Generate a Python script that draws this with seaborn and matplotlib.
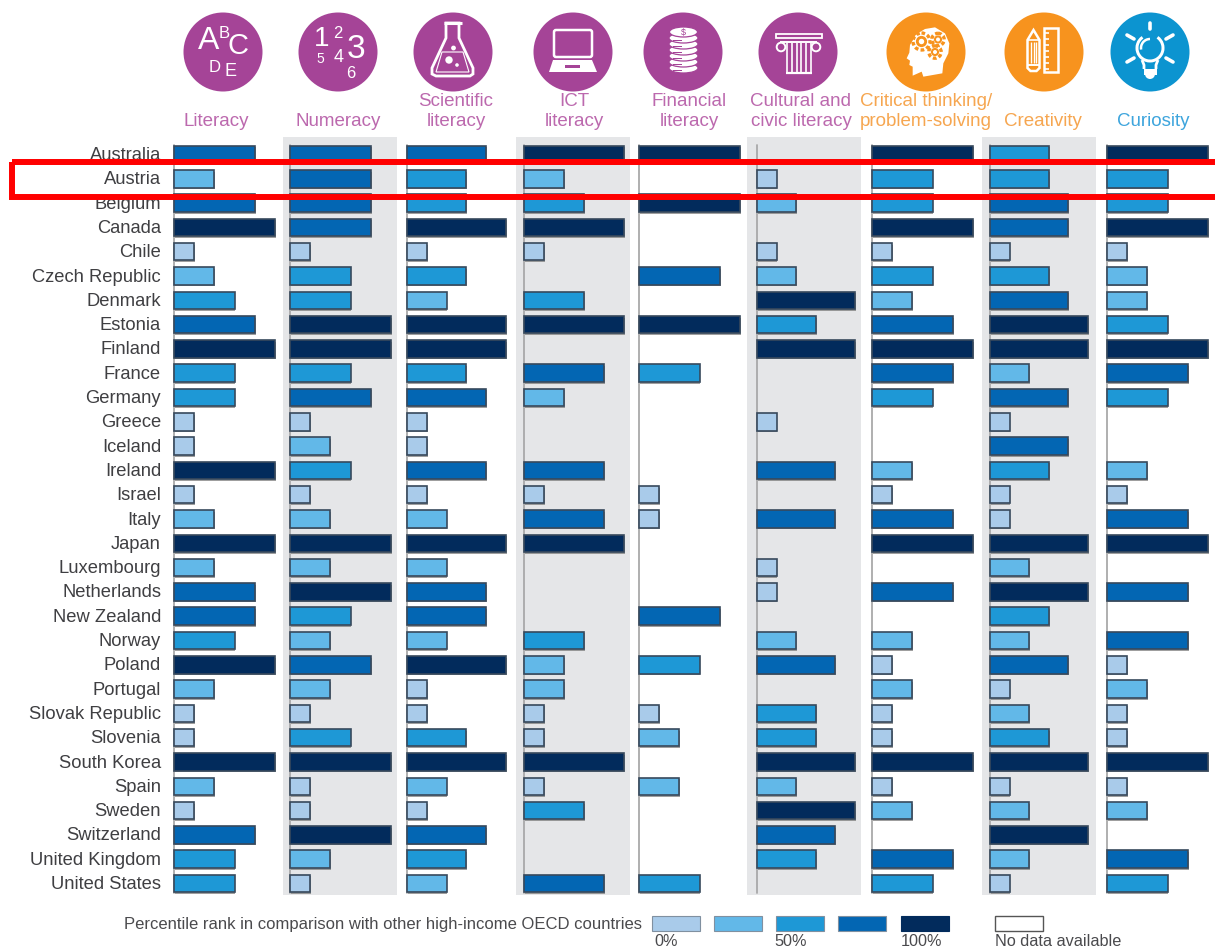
import matplotlib
matplotlib.use("Agg")
import matplotlib.pyplot as plt
import matplotlib.patheffects as pe
import matplotlib.transforms as mtrans
from matplotlib.patches import Circle, Rectangle, Polygon, Ellipse, FancyBboxPatch, Wedge, Arc
import numpy as np
import pandas as pd
import seaborn as sns

countries = ["Australia", "Austria", "Belgium", "Canada", "Chile", "Czech Republic", "Denmark",
             "Estonia", "Finland", "France", "Germany", "Greece", "Iceland", "Ireland", "Israel",
             "Italy", "Japan", "Luxembourg", "Netherlands", "New Zealand", "Norway", "Poland",
             "Portugal", "Slovak Republic", "Slovenia", "South Korea", "Spain", "Sweden",
             "Switzerland", "United Kingdom", "United States"]

# percentile-rank level per country, 1-5; 0 = no data
literacy = [4,2,4,5,1,2,3,4,5,3,3,1,1,5,1,2,5,2,4,4,3,5,2,1,1,5,2,1,4,3,3]
numeracy = [4,4,4,4,1,3,3,5,5,3,4,1,2,3,1,2,5,2,5,3,2,4,2,1,3,5,1,1,5,2,1]
scientific = [4,3,3,5,1,3,2,5,5,3,4,1,1,4,1,2,5,2,4,4,2,5,1,1,3,5,2,1,4,3,2]
ict = [5,2,3,5,1,0,3,5,0,4,2,0,0,4,1,4,5,0,0,0,3,2,2,1,1,5,1,3,0,0,4]
financial = [5,0,5,0,0,4,0,5,0,3,0,0,0,0,1,1,0,0,0,4,0,3,0,1,2,0,2,0,0,0,3]
cultural = [0,1,2,0,1,2,5,3,5,0,0,1,0,4,0,4,0,1,1,0,2,4,0,3,3,5,2,5,4,3,0]
critical = [5,3,3,5,1,3,2,4,5,4,3,0,0,2,1,4,5,0,4,0,2,1,2,1,1,5,1,2,0,4,3]
creativity = [3,3,4,4,1,3,4,5,5,2,4,1,4,3,1,1,5,2,5,3,2,4,1,2,3,5,1,2,5,2,1]
curiosity = [5,3,3,5,1,2,2,3,5,4,3,0,0,2,1,4,5,0,4,0,4,1,2,1,1,5,1,2,0,4,3]

skills = {"Literacy": literacy, "Numeracy": numeracy, "Scientific literacy": scientific,
          "ICT literacy": ict, "Financial literacy": financial,
          "Cultural and civic literacy": cultural, "Critical thinking/problem-solving": critical,
          "Creativity": creativity, "Curiosity": curiosity}

header_lines = [["Literacy"], ["Numeracy"], ["Scientific", "literacy"], ["ICT", "literacy"],
                ["Financial", "literacy"], ["Cultural and", "civic literacy"],
                ["Critical thinking/", "problem-solving"], ["Creativity"], ["Curiosity"]]
legend_title = "Percentile rank in comparison with other high-income OECD countries"
legend_ticks = ["0%", "50%", "100%"]
nodata_label = "No data available"

level_colors = {1: "#A9CBEA", 2: "#62B8E8", 3: "#1E98D6", 4: "#0366B3", 5: "#022B5C"}
PURPLE, ORANGE, BLUE = "#A54497", "#F7931E", "#0C94D0"
TXT_P, TXT_O, TXT_B = "#BC69AE", "#F6A650", "#3EA5DD"
header_colors = [TXT_P]*6 + [TXT_O]*2 + [TXT_B]
circle_colors = [PURPLE]*6 + [ORANGE]*2 + [BLUE]

sns.set_theme(style="white")
plt.rcParams["font.family"] = ["Liberation Sans", "DejaVu Sans"]
W, H = 1215, 950
fig = plt.figure(figsize=(W/100, H/100), dpi=100, facecolor="white")

col_start = [174, 290, 407, 524, 639, 757, 872, 990, 1107]
col_full = [101, 101, 99, 100, 101, 98, 101, 98, 101]   # px width of the top level
left_pads = [7, 7, 7, 8, 7, 10, 7, 8, 7]
band = [False, True, False, True, False, True, False, True, False]
col_w = 114
top_px, bot_px, row0, row_h = 137, 895, 154.5, 24.3

for i, (name, vals) in enumerate(skills.items()):
    left_pad = left_pads[i]
    per_level = col_full[i] / 5
    x0 = col_start[i] - left_pad
    ax = fig.add_axes([x0/W, 1 - bot_px/H, col_w/W, (bot_px - top_px)/H])
    ax.set_facecolor("#E5E6E8" if band[i] else "none")
    ax.patch.set_alpha(1 if band[i] else 0)
    df = pd.DataFrame({"country": countries, "level": vals})
    df = df[df["level"] > 0]
    sns.barplot(data=df, y="country", x="level", hue="level", order=countries,
                hue_order=[1, 2, 3, 4, 5], palette=level_colors, dodge=False, width=0.72,
                saturation=1, edgecolor="#37495C", linewidth=1.2, legend=False, ax=ax, zorder=3)
    for p in ax.patches:
        p.set_path_effects([pe.SimplePatchShadow(offset=(0.6, -1.2), shadow_rgbFace="#777777", alpha=0.7),
                            pe.Normal()])
    ax.set_xlim(-left_pad/per_level, (col_w - left_pad)/per_level)
    ax.set_ylim((bot_px - row0)/row_h, (top_px - row0)/row_h)
    ax.axvline(0, ymin=0.003, ymax=0.99, color="#A9A9A9", lw=1.3, zorder=2)
    ax.set_xlabel(""); ax.set_ylabel(""); ax.set_xticks([])
    for s in ax.spines.values():
        s.set_visible(False)
    ax.tick_params(axis="y", length=0, pad=4.3)
    if i == 0:
        ax.set_yticks(range(len(countries)))
        ax.set_yticklabels(countries, fontsize=13.2, color="#3F3F42")
        shift = mtrans.ScaledTranslation(0, 1/100, fig.dpi_scale_trans)
        for t in ax.get_yticklabels():
            t.set_ha("right")
            t.set_transform(t.get_transform() + shift)
    else:
        ax.set_yticks([])

ov = fig.add_axes([0, 0, 1, 1], zorder=10)
ov.set_xlim(0, W); ov.set_ylim(H, 0); ov.axis("off"); ov.patch.set_alpha(0)

# header
centers = [223, 338, 453, 573, 683, 798, 926, 1044, 1150]
label_x = [216, 338, 456, 574, 689, 801, 926, 1043, 1153]
for cx, col in zip(centers, circle_colors):
    ov.add_patch(Circle((cx, 52), 39.5, fc=col, ec="none"))
for lx, lines, col in zip(label_x, header_lines, header_colors):
    for k, s in enumerate(reversed(lines)):
        ov.text(lx, 121.5 - 19.5*k, s, ha="center", va="center", fontsize=13.5, color=col)

def wt(x, y, s, size):
    ov.text(x, y, s, ha="center", va="center", color="white", fontsize=size)

def wl(xs, ys, lw=1.6, cap="butt"):
    ov.plot(xs, ys, color="white", lw=lw, solid_capstyle=cap)

# Literacy icon
wt(209, 41, "A", 23); wt(224, 33, "B", 12); wt(238, 46, "C", 21)
wt(215, 67, "D", 12); wt(231, 71, "E", 13)
# Numeracy icon
wt(322, 39, "1", 20); wt(338, 34, "2", 12); wt(356, 50, "3", 24)
wt(339, 58, "4", 13); wt(320, 59, "5", 10); wt(351, 73, "6", 12)

# Flask
ov.add_patch(Polygon([(446, 23), (446, 38), (432, 68), (432, 74), (436, 76), (470, 76), (473, 74), (473, 68),
                      (459, 38), (459, 23)], closed=True, fc="none", ec="white", lw=2))
wl([443.5, 461.5], [23, 23], 2.2)
ov.add_patch(Polygon([(442, 52), (436, 72), (469, 72), (463, 52)], closed=True, fc="none", ec="white", lw=0.8))
ov.add_patch(Circle((449, 60), 3.7, fc="white", ec="none"))
ov.add_patch(Circle((453.5, 48), 2.4, fc="white", ec="none"))
ov.add_patch(Circle((457, 65), 1.8, fc="white", ec="none"))

# Laptop
ov.add_patch(FancyBboxPatch((554, 30), 38, 27, boxstyle="round,pad=0,rounding_size=2", fc="none", ec="white", lw=1.8))
ov.add_patch(Polygon([(553, 60), (592, 60), (597, 72), (549, 72)], closed=True, fc="white", ec="none"))
ov.add_patch(Rectangle((565, 65), 15, 3, fc=PURPLE, ec="none"))

# Coins
for yy in [68, 62, 56, 50, 44, 38]:
    ov.add_patch(Ellipse((683.5, yy), 29, 10, fc="white", ec=PURPLE, lw=0.9))
    ov.add_patch(Rectangle((673, yy+2), 9, 1.3, fc=PURPLE, ec="none"))
ov.add_patch(Ellipse((683.5, 32), 28, 10, fc="white", ec=PURPLE, lw=0.9))
ov.text(683.5, 32, "$", ha="center", va="center", fontsize=6.5, color=PURPLE)

# Column
ov.add_patch(Rectangle((776, 34), 46, 4, fc="none", ec="white", lw=1.3))
ov.add_patch(Circle((781, 47), 4.3, fc="none", ec="white", lw=1.4))
ov.add_patch(Circle((816, 47), 4.3, fc="none", ec="white", lw=1.4))
wl([780, 817], [41.5, 41.5], 1.4)
for xx in [787, 792, 797, 801, 806, 811]:
    wl([xx, xx], [43, 72], 1.2)
wl([786, 812], [72.5, 72.5], 1.6)

# Head with gears (facing left)
head = [(98, 197), (98, 170), (88, 165), (90, 152), (80, 145), (88, 128), (90, 105), (110, 72),
        (135, 57), (165, 52), (195, 70), (208, 100), (205, 130), (190, 160), (187, 190), (130, 200), (125, 185)]
ov.add_patch(Polygon([(880 + a/3, 10 + b/3) for a, b in head], closed=True, fc="white", ec="none"))
for gx, gy, r in [(921.5, 41.5, 8.5), (938, 39.5, 6.2), (935, 52, 6.2)]:
    ov.add_patch(Circle((gx, gy), r, fc="white", ec=ORANGE, lw=2.4, ls=(0, (1.1, 0.7))))
    ov.add_patch(Circle((gx, gy), r*0.66, fc=ORANGE, ec="none"))
    ov.add_patch(Circle((gx, gy), r*0.32, fc="white", ec="none"))

# Pencil and ruler
ov.add_patch(Polygon([(1027.5, 40), (1033.5, 30), (1039.5, 40), (1039.5, 68), (1036.5, 71), (1030.5, 71), (1027.5, 68)],
                     closed=True, fc="none", ec="white", lw=1.8))
for xx in [1031, 1033.5, 1036]:
    wl([xx, xx], [42, 63], 1.0)
wl([1027.5, 1039.5], [40, 40], 1.2)
wl([1027.5, 1039.5], [65, 65], 1.4)
ov.add_patch(Rectangle((1043.5, 28), 14, 44, fc="none", ec="white", lw=1.8))
for yy in np.arange(33, 70, 6):
    wl([1043.5, 1049], [yy, yy], 1.2)

# Bulb
ov.add_patch(Wedge((1150, 48), 14.5, 305, 235, width=3, fc="white", ec="none"))
ov.add_patch(Arc((1150, 48), 18, 18, theta1=170, theta2=270, color="white", lw=1.8))
wl([1142, 1144, 1144], [60, 65, 69], 2)
wl([1158, 1156, 1156], [60, 65, 69], 2)
ov.add_patch(Rectangle((1143.5, 69), 13, 5.5, fc="white", ec="none"))
ov.add_patch(Wedge((1150, 74), 5, 0, 180, fc="white", ec="none"))
for (a, b), (c, d) in [((1150, 23), (1150, 29)), ((1127, 35), (1134, 39)), ((1173, 35), (1166, 39)),
                       ((1127, 62), (1134, 58)), ((1173, 62), (1166, 58))]:
    wl([a, c], [b, d], 2.6, "round")

# legend
ov.text(642, 924, legend_title, ha="right", va="center", fontsize=11.95, color="#4A4A4D")
swatch_x = [652, 714, 776, 838, 901]
for sx, lv in zip(swatch_x, [1, 2, 3, 4, 5]):
    ov.add_patch(Rectangle((sx, 916), 48, 15, fc=level_colors[lv], ec="#8090A0" if lv < 5 else level_colors[5], lw=0.8))
ov.add_patch(Rectangle((995, 916), 48, 15, fc="white", ec="#555555", lw=1))
for tx, s in zip([666, 791, 921], legend_ticks):
    ov.text(tx, 941, s, ha="center", va="center", fontsize=11.7, color="#4A4A4D")
ov.text(995, 941, nodata_label, ha="left", va="center", fontsize=11.7, color="#4A4A4D")

# red highlight (runs off the right edge)
ov.add_patch(Rectangle((11.5, 162), 1300, 34.5, fc="none", ec="#FF0000", lw=4.3, joinstyle="miter", clip_on=True))

fig.savefig("out.png", dpi=100)
